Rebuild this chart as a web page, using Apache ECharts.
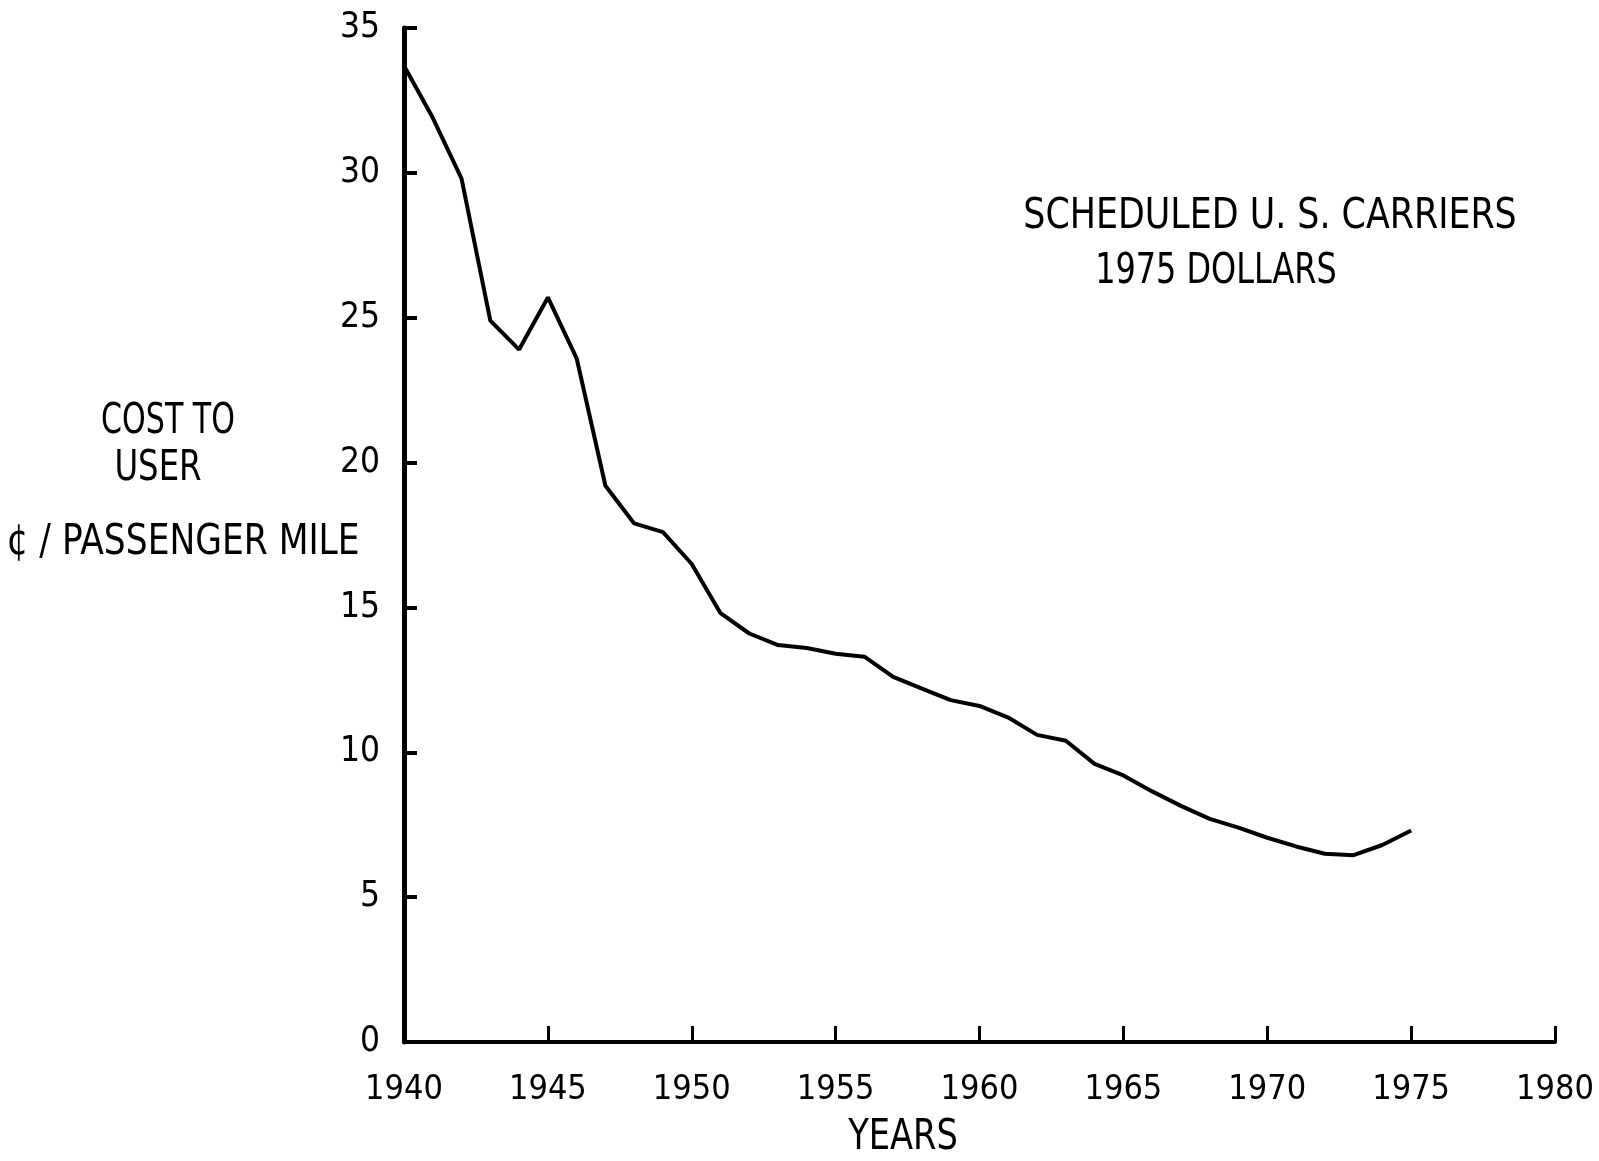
<!DOCTYPE html>
<html lang="en">
<head>
  <meta charset="UTF-8">
  <title>chart</title>
  <style>
    html, body { margin: 0; padding: 0; background: #fff; }
  </style>
</head>
<body>
<div id="main" style="width: 1599px;height:1161px;"></div>
<script src="https://cdn.jsdelivr.net/npm/echarts@6/dist/echarts.min.js"></script>
<script>
// years on the x axis, cost per passenger mile (1975 cents)
var years = [1940, 1941, 1942, 1943, 1944, 1945, 1946, 1947, 1948, 1949,
  1950, 1951, 1952, 1953, 1954, 1955, 1956, 1957, 1958, 1959,
  1960, 1961, 1962, 1963, 1964, 1965, 1966, 1967, 1968, 1969,
  1970, 1971, 1972, 1973, 1974, 1975];
var cost = [33.7, 31.9, 29.8, 24.9, 23.9, 25.7, 23.6, 19.2, 17.9, 17.6,
  16.5, 14.8, 14.1, 13.7, 13.6, 13.4, 13.3, 12.6, 12.2, 11.8,
  11.6, 11.2, 10.6, 10.4, 9.6, 9.2, 8.65, 8.15, 7.7, 7.4,
  7.05, 6.75, 6.5, 6.45, 6.8, 7.3];
var yTicks = [0, 5, 10, 15, 20, 25, 30, 35];
var xTicks = [1940, 1945, 1950, 1955, 1960, 1965, 1970, 1975, 1980];

var font = '"DejaVu Sans Condensed", "DejaVu Sans", sans-serif';
var myChart = echarts.init(document.getElementById('main'));

var pts = [];
for (var i = 0; i < years.length; i++) pts.push([years[i], cost[i]]);

// stretched label text, the scan uses a tall narrow face
function label(txt, x, y, sx) {
  return {
    type: 'text', x: x, y: y, scaleX: sx, scaleY: 1.2,
    style: { text: txt, fill: '#000', font: '36px ' + font, textAlign: 'center', textVerticalAlign: 'middle' }
  };
}

myChart.setOption({
  backgroundColor: '#fff',
  animation: false,
  grid: { left: 404, right: 44, top: 28, bottom: 119 },
  xAxis: {
    type: 'value',
    min: 1940,
    max: 1980,
    interval: 5,
    axisLine: { lineStyle: { color: '#000', width: 4 } },
    axisTick: { inside: true, length: 16, lineStyle: { color: '#000', width: 3 } },
    splitLine: { show: false },
    axisLabel: {
      color: '#000', fontFamily: font, fontSize: 34, margin: 31,
      formatter: function (v) { return xTicks.indexOf(v) >= 0 ? String(v) : ''; }
    }
  },
  yAxis: {
    type: 'value',
    min: 0,
    max: 35,
    interval: 5,
    axisLine: { show: true, lineStyle: { color: '#000', width: 5 } },
    axisTick: { show: true, inside: true, length: 13, lineStyle: { color: '#000', width: 4 } },
    splitLine: { show: false },
    axisLabel: {
      color: '#000', fontFamily: font, fontSize: 35, margin: 24,
      formatter: function (v) { return yTicks.indexOf(v) >= 0 ? String(v) : ''; }
    }
  },
  graphic: [
    label('COST TO', 168, 422, 0.93),
    label('USER', 158, 469, 1.0),
    label('¢ / PASSENGER MILE', 183, 543, 1.065),
    label('SCHEDULED U. S. CARRIERS', 1270, 217, 1.076),
    label('1975 DOLLARS', 1216, 272, 0.985),
    label('YEARS', 903, 1138, 1.04)
  ],
  series: [{
    type: 'line',
    data: pts,
    symbol: 'none',
    lineStyle: { color: '#000', width: 4 }
  }]
});
</script>
</body>
</html>
